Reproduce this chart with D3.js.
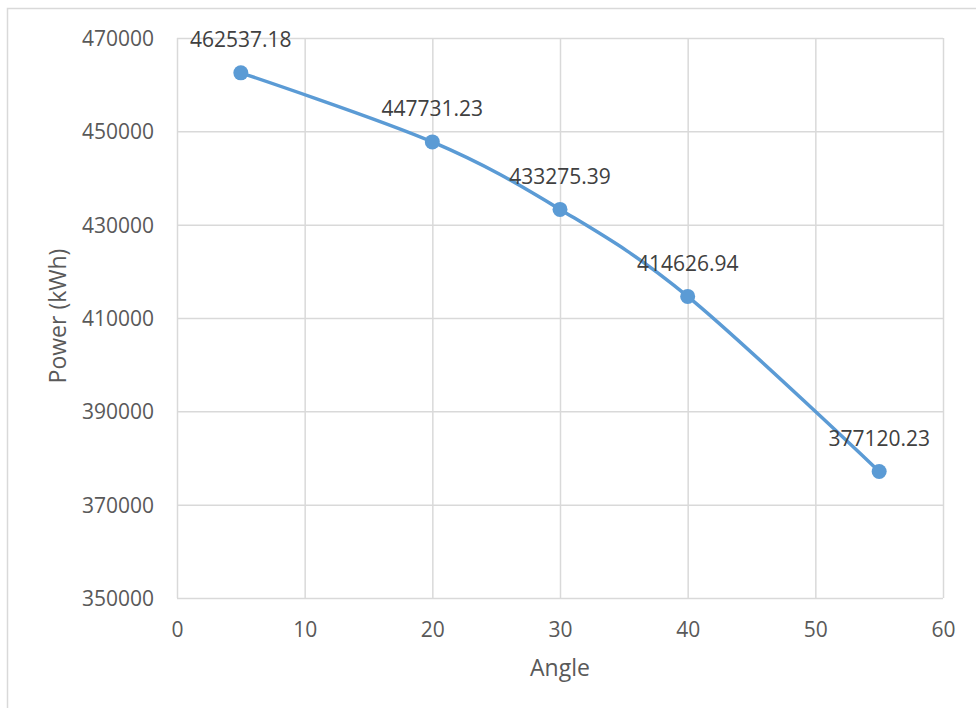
<!DOCTYPE html>
<html>
<head>
<meta charset="utf-8">
<script src="https://cdn.jsdelivr.net/npm/d3@7"></script>
<style>
  html, body { margin: 0; padding: 0; background: #ffffff; }
  svg { display: block; }
  text { font-family: "Open Sans", "Noto Sans", sans-serif; }
</style>
</head>
<body>
<svg id="chart" width="976" height="708"></svg>
<script>
// Energy output by panel angle
const angles = [5, 20, 30, 40, 55];
const power = [462537.18, 447731.23, 433275.39, 414626.94, 377120.23];
const xTicks = [0, 10, 20, 30, 40, 50, 60];
const yTicks = [350000, 370000, 390000, 410000, 430000, 450000, 470000];
const xTitle = "Angle";
const yTitle = "Power (kWh)";

const W = 976, H = 708;
const plot = { left: 177, right: 943, top: 38, bottom: 598 };

const svg = d3.select("#chart");

// chart frame
svg.append("rect")
  .attr("x", 7.5).attr("y", 8.5)
  .attr("width", W + 20).attr("height", H + 20)
  .attr("fill", "#ffffff")
  .attr("stroke", "#d9d9d9").attr("stroke-width", 1.5);

const x = d3.scaleLinear().domain([0, 60]).range([plot.left, plot.right]);
const y = d3.scaleLinear().domain([350000, 470000]).range([plot.bottom, plot.top]);

const gridColor = "#d9d9d9";

// gridlines
const gx = svg.append("g").attr("transform", `translate(0,${plot.bottom})`)
  .call(d3.axisBottom(x).tickValues(xTicks).tickSize(-(plot.bottom - plot.top)).tickFormat(""));
gx.select(".domain").remove();
gx.selectAll("line").attr("stroke", gridColor).attr("stroke-width", 1.5);

const gy = svg.append("g").attr("transform", `translate(${plot.left},0)`)
  .call(d3.axisLeft(y).tickValues(yTicks).tickSize(-(plot.right - plot.left)).tickFormat(""));
gy.select(".domain").remove();
gy.selectAll("line").attr("stroke", gridColor).attr("stroke-width", 1.5);

// tick labels
const tickColor = "#595959";
const ax = svg.append("g").attr("transform", `translate(0,${plot.bottom})`)
  .call(d3.axisBottom(x).tickValues(xTicks).tickSize(0).tickPadding(0).tickFormat(d3.format("d")));
ax.select(".domain").remove();
ax.selectAll("text")
  .attr("dy", null).attr("y", 39)
  .attr("font-size", 21).attr("fill", tickColor)
  .style("font-family", '"Open Sans", sans-serif');

const ay = svg.append("g").attr("transform", `translate(${plot.left},0)`)
  .call(d3.axisLeft(y).tickValues(yTicks).tickSize(0).tickPadding(0).tickFormat(d3.format("d")));
ay.select(".domain").remove();
ay.selectAll("text")
  .attr("x", -23).attr("dy", "0.36em")
  .attr("font-size", 21).attr("fill", tickColor)
  .style("font-family", '"Open Sans", sans-serif');

// axis titles
svg.append("text")
  .attr("x", (plot.left + plot.right) / 2).attr("y", 676)
  .attr("text-anchor", "middle")
  .attr("font-size", 23).attr("fill", tickColor)
  .text(xTitle);

svg.append("text")
  .attr("transform", `translate(66,${(plot.top + plot.bottom) / 2 - 2}) rotate(-90)`)
  .attr("text-anchor", "middle")
  .attr("font-size", 23).attr("fill", tickColor)
  .text(yTitle);

// series
const pts = angles.map((a, i) => ({ a, p: power[i] }));
const blue = "#5b9bd5";

const line = d3.line()
  .x(d => x(d.a)).y(d => y(d.p))
  .curve(d3.curveCardinal.tension(0));

svg.append("path")
  .datum(pts)
  .attr("d", line)
  .attr("fill", "none")
  .attr("stroke", blue)
  .attr("stroke-width", 3.5)
  .attr("stroke-linecap", "round");

svg.append("g").selectAll("circle")
  .data(pts).join("circle")
  .attr("cx", d => x(d.a)).attr("cy", d => y(d.p))
  .attr("r", 7.5)
  .attr("fill", blue);

// value labels
svg.append("g").selectAll("text")
  .data(pts).join("text")
  .attr("x", d => x(d.a)).attr("y", d => y(d.p) - 25.5)
  .attr("text-anchor", "middle")
  .attr("font-size", 21).attr("fill", "#404040")
  .text(d => d3.format(".2f")(d.p));
</script>
</body>
</html>
